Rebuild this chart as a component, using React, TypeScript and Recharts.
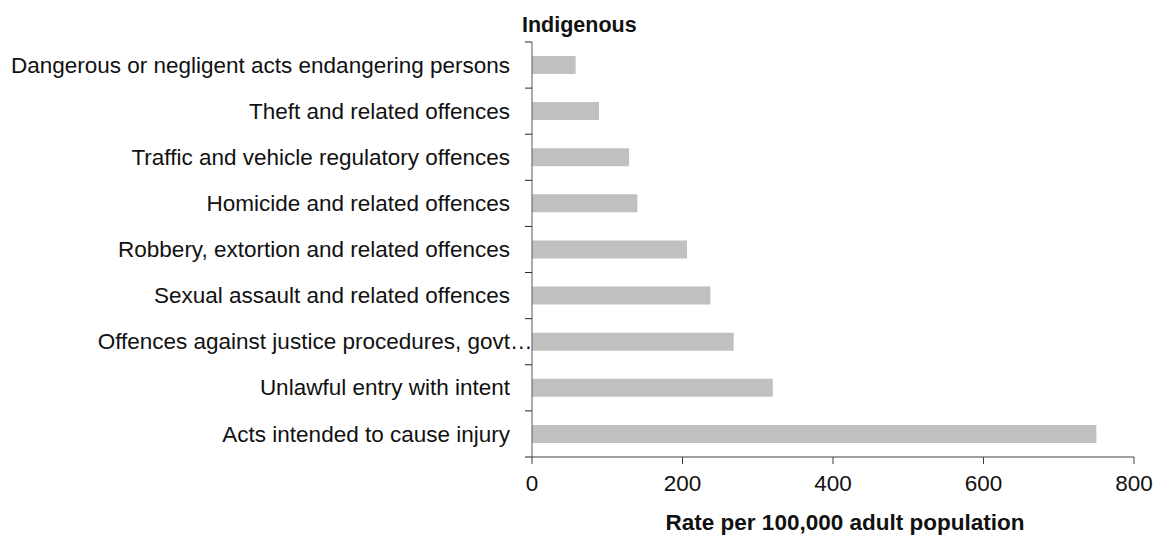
import React from 'react';
import { BarChart, Bar, XAxis, YAxis, Label } from 'recharts';

const categories = [
  'Dangerous or negligent acts endangering persons',
  'Theft and related offences',
  'Traffic and vehicle regulatory offences',
  'Homicide and related offences',
  'Robbery, extortion and related offences',
  'Sexual assault and related offences',
  'Offences against justice procedures, govt…',
  'Unlawful entry with intent',
  'Acts intended to cause injury',
];

const rates = [58, 89, 129, 140, 206, 237, 268, 320, 750];

const xTicks = [0, 200, 400, 600, 800];

const data = categories.map((name, i) => ({ name, rate: rates[i] }));

const FONT = '"Liberation Sans", Arial, Helvetica, sans-serif';
const TICK_SIZE = 7;
const TICK_MARGIN = 15;

const CategoryTick = (props: any) => {
  const { x, y, payload, index } = props;
  const half = payload.offset || 23;
  const label: string = payload.value;
  const axisX = x + TICK_SIZE + TICK_MARGIN;
  const ellipsis = label.endsWith('…');
  const main = ellipsis ? label.slice(0, -1) : label;
  return (
    <g>
      <line x1={axisX - TICK_SIZE} x2={axisX} y1={y - half} y2={y - half} stroke="#262626" strokeWidth={1} />
      {index === categories.length - 1 && (
        <line x1={axisX - TICK_SIZE} x2={axisX} y1={y + half} y2={y + half} stroke="#262626" strokeWidth={1} />
      )}
      <text x={x} y={y} dy="0.34em" textAnchor="end" fontSize={22.5} fontFamily={FONT} fill="#111">
        {main}
      </text>
      {ellipsis && (
        <text x={x} y={y} dy="0.34em" textAnchor="start" fontSize={22.5} fontFamily={FONT} fill="#111">
          …
        </text>
      )}
    </g>
  );
};

const App = () => {
  return (
    <div style={{ position: 'absolute', left: 0, top: 0, width: 1160, height: 538, background: '#fff' }}>
      <div
        style={{
          position: 'absolute',
          left: 522,
          top: 14,
          fontFamily: FONT,
          fontWeight: 'bold',
          fontSize: 21.5,
          lineHeight: '22px',
          color: '#111',
        }}
      >
        Indigenous
      </div>
      <BarChart
        width={1160}
        height={538}
        data={data}
        layout="vertical"
        margin={{ top: 42, right: 26, left: 0, bottom: 0 }}
      >
        <XAxis
          type="number"
          domain={[0, 800]}
          ticks={xTicks}
          height={81}
          tickSize={TICK_SIZE}
          tickMargin={11}
          axisLine={{ stroke: '#404040' }}
          tickLine={{ stroke: '#404040' }}
          tick={{ fontSize: 22.5, fontFamily: FONT, fill: '#111' }}
        >
          <Label
            value="Rate per 100,000 adult population"
            position="insideBottom"
            offset={8}
            dx={12}
            style={{ fontSize: 22.5, fontFamily: FONT, fontWeight: 'bold', fill: '#111' }}
          />
        </XAxis>
        <YAxis
          type="category"
          dataKey="name"
          width={532}
          tickSize={TICK_SIZE}
          tickMargin={TICK_MARGIN}
          tickLine={false}
          axisLine={{ stroke: '#595959' }}
          tick={<CategoryTick />}
          interval={0}
        />
        <Bar dataKey="rate" fill="#c0c0c0" barSize={18} isAnimationActive={false} />
      </BarChart>
    </div>
  );
};

export default App;
